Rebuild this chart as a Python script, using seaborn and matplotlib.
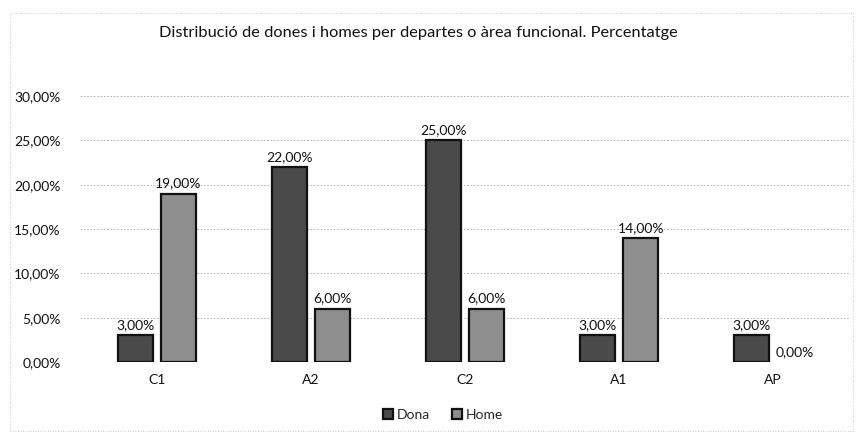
import matplotlib
matplotlib.use("Agg")
import matplotlib.pyplot as plt
import seaborn as sns
import pandas as pd
from matplotlib.patches import Rectangle

categories = ["C1", "A2", "C2", "A1", "AP"]
dona = [3, 22, 25, 3, 3]
home = [19, 6, 6, 14, 0]
series = ["Dona", "Home"]
yticks = [0, 5, 10, 15, 20, 25, 30]

df = pd.DataFrame({
    "cat": categories * 2,
    "val": dona + home,
    "serie": ["Dona"] * len(categories) + ["Home"] * len(categories),
})

sns.set_style("white")
plt.rcParams["font.family"] = ["Lato", "DejaVu Sans"]

fig = plt.figure(figsize=(8.57, 4.33), dpi=100)
ax = fig.add_axes([0.0933, 0.164, 0.8987, 0.614])

sns.barplot(data=df, x="cat", y="val", hue="serie", order=categories,
            hue_order=series, palette=["#4a4a4a", "#8e8e8e"],
            width=0.56, gap=0.2, edgecolor="#111111", linewidth=1.6,
            ax=ax, legend=True)

def fmt(v):
    return f"{v:.2f}".replace(".", ",") + "%"

for cont in ax.containers:
    for b in cont:
        if b.get_height() == 0:
            b.set_linewidth(0)
    ax.bar_label(cont, labels=[fmt(b.get_height()) for b in cont],
                 padding=3, fontsize=10, color="#111111")

ax.set_ylim(0, 30)
ax.set_xlim(-0.5, len(categories) - 0.5)
ax.set_yticks(yticks)
ax.set_yticklabels([fmt(t) for t in yticks], fontsize=10, color="#111111")
ax.tick_params(axis="y", length=0, pad=14)
ax.tick_params(axis="x", length=0, pad=9, labelsize=10, labelcolor="#111111")
ax.set_xlabel("")
ax.set_ylabel("")
for s in ax.spines.values():
    s.set_visible(False)
ax.yaxis.grid(True, color="#aaaaaa", linestyle=(0, (2, 2)), linewidth=0.6)
ax.set_axisbelow(True)

leg = ax.get_legend()
handles = leg.legend_handles
leg.remove()
fig.legend(handles, series, loc="center", bbox_to_anchor=(0.517, 0.042),
           ncol=2, frameon=False, fontsize=10, handlelength=0.7,
           handleheight=0.7, handletextpad=0.3, columnspacing=1.6)

fig.text(418 / 857, 1 - 33 / 433, "Distribució de dones i homes per departes o àrea funcional. Percentatge",
         ha="center", va="center", fontsize=11.8, color="#111111")

fig.patches.append(Rectangle((10 / 857, 0.005), 0.995 - 10 / 857, 1 - 13 / 433 - 0.005,
                             transform=fig.transFigure, fill=False,
                             edgecolor="#bbbbbb", linestyle=(0, (1, 2)), linewidth=0.6))

fig.savefig("out.png", dpi=100)
